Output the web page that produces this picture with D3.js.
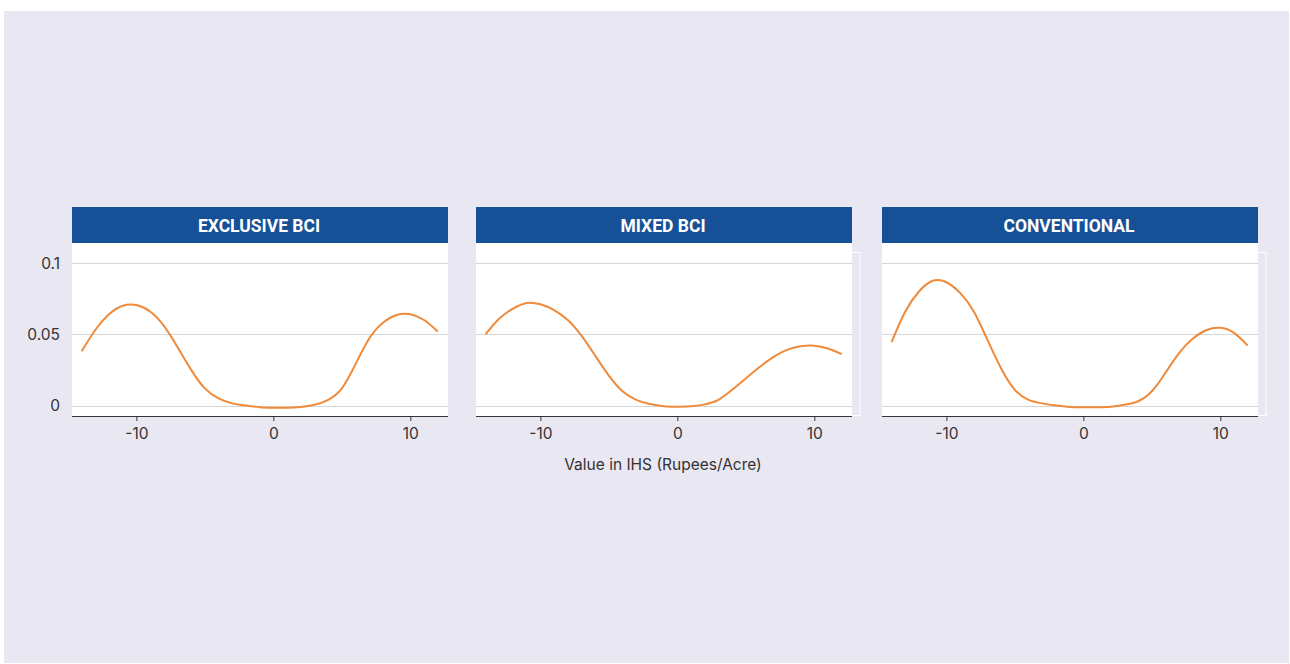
<!DOCTYPE html>
<html>
<head>
<meta charset="utf-8">
<script src="https://cdn.jsdelivr.net/npm/d3@7/dist/d3.min.js"></script>
<style>
  html, body { margin: 0; padding: 0; background: #ffffff; }
  svg { display: block; }
</style>
</head>
<body>
<svg id="chart" width="1290" height="664"></svg>
<script>
// ---- data ----
const panelTitles = ["EXCLUSIVE BCI", "MIXED BCI", "CONVENTIONAL"];
const xValues = [-14,-13,-12,-11,-10,-9,-8,-7,-6,-5,-4,-3,-2,-1,0,1,2,3,4,5,6,7,8,9,10,11,12];
const exclusiveBCI = [0.038,0.053,0.064,0.070,0.0705,0.066,0.056,0.041,0.025,0.012,0.005,0.0015,0.0,-0.0012,-0.0016,-0.0016,-0.001,0.0005,0.004,0.012,0.029,0.047,0.058,0.0635,0.064,0.060,0.052];
const mixedBCI = [0.050,0.061,0.068,0.072,0.071,0.067,0.060,0.049,0.035,0.021,0.010,0.004,0.001,-0.0005,-0.0008,-0.0006,0.0008,0.004,0.011,0.019,0.027,0.034,0.039,0.0415,0.042,0.040,0.036];
const conventional = [0.0445,0.066,0.080,0.0875,0.0865,0.079,0.066,0.046,0.026,0.011,0.004,0.0015,0.0,-0.001,-0.0013,-0.0012,-0.0008,0.0005,0.003,0.010,0.023,0.037,0.047,0.053,0.0545,0.051,0.042];
const seriesList = [exclusiveBCI, mixedBCI, conventional];
const xTicks = [-10, 0, 10];
const xTickLabels = ["-10", "0", "10"];
const yTicks = [0, 0.05, 0.1];
const yTickLabels = ["0", "0.05", "0.1"];
const xAxisTitle = "Value in IHS (Rupees/Acre)";

// ---- layout ----
const svg = d3.select("#chart");
svg.append("rect").attr("x", 4).attr("y", 11).attr("width", 1285).attr("height", 652).attr("fill", "#e9e7f2");

const panelLefts = [72, 476, 882];
const panelW = 376;
const headerTop = 207, headerH = 36;
const plotTop = 243, plotBottom = 416;
const labelFont = "Inter, 'Noto Sans', sans-serif";

const x = d3.scaleLinear().domain([-14.7, 12.75]).range([0, panelW]);
const y = d3.scaleLinear().domain([0, 0.1]).range([405.5, 263]);

const line = d3.line()
  .x((d, i) => x(xValues[i]))
  .y(d => y(d))
  .curve(d3.curveNatural);

panelTitles.forEach((title, p) => {
  const g = svg.append("g").attr("transform", `translate(${panelLefts[p]},0)`);

  if (p > 0) {
    g.append("rect")
      .attr("x", 0.5).attr("y", 252.5)
      .attr("width", panelW + 7.5).attr("height", 163)
      .attr("fill", "none").attr("stroke", "#ffffff").attr("stroke-width", 1);
  }

  g.append("rect").attr("x", 0).attr("y", plotTop).attr("width", panelW).attr("height", plotBottom - plotTop).attr("fill", "#ffffff");

  g.append("rect").attr("x", 0).attr("y", headerTop).attr("width", panelW).attr("height", headerH).attr("fill", "#165198");
  g.append("text")
    .attr("x", panelW / 2 - 1).attr("y", 231.5)
    .attr("text-anchor", "middle")
    .attr("fill", "#ffffff")
    .style("font-family", "Roboto, 'Liberation Sans', sans-serif")
    .style("font-weight", "700")
    .style("font-size", "17.5px")
    .text(title);

  // gridlines
  g.selectAll("line.grid").data(yTicks).enter().append("line")
    .attr("x1", 0).attr("x2", panelW)
    .attr("y1", d => Math.round(y(d)) + 0.5).attr("y2", d => Math.round(y(d)) + 0.5)
    .attr("stroke", "#d6d6d6").attr("stroke-width", 1);

  // x axis
  const xa = g.append("g").attr("transform", `translate(0,${plotBottom})`)
    .call(d3.axisBottom(x).tickValues(xTicks).tickSize(5).tickPadding(7)
      .tickFormat((d, i) => xTickLabels[i]));
  xa.select(".domain").attr("stroke", "#333333").attr("stroke-width", 1.2).attr("d", `M0,0.5H${panelW}`);
  xa.selectAll(".tick line").attr("stroke", "#333333");
  xa.selectAll(".tick text")
    .attr("fill", "#333333")
    .style("font-family", labelFont)
    .style("font-size", "15.5px");

  // y labels only in first panel
  if (p === 0) {
    g.selectAll("text.ylab").data(yTicks).enter().append("text")
      .attr("x", -12).attr("y", d => y(d) + 5.5)
      .attr("text-anchor", "end")
      .attr("fill", "#333333")
      .style("font-family", labelFont)
      .style("font-size", "15.5px")
      .text((d, i) => yTickLabels[i]);
  }

  g.append("path")
    .datum(seriesList[p])
    .attr("d", line)
    .attr("fill", "none")
    .attr("stroke", "#ef8a3a")
    .attr("stroke-width", 2);
});

svg.append("text")
  .attr("x", 663).attr("y", 470)
  .attr("text-anchor", "middle")
  .attr("fill", "#333333")
  .style("font-family", labelFont)
  .style("font-size", "15.5px")
  .text(xAxisTitle);
</script>
</body>
</html>
